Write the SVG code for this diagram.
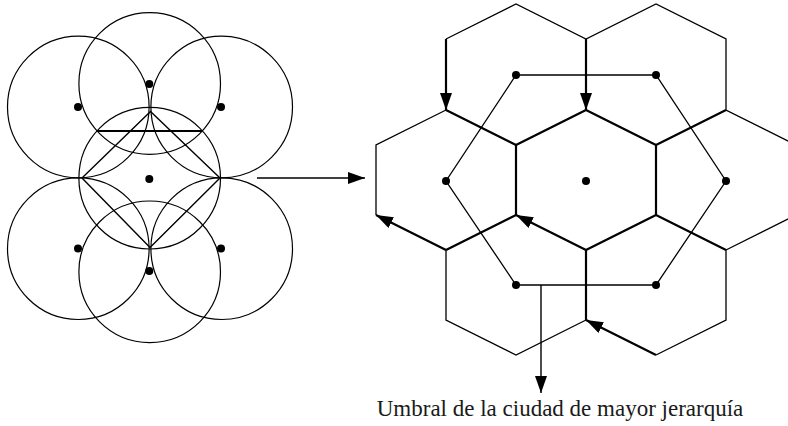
<svg xmlns="http://www.w3.org/2000/svg" width="788" height="426" viewBox="0 0 788 426">
  <style>
    .c { fill: none; stroke: #000; stroke-width: 1.2; }
    .th { fill: none; stroke: #000; stroke-width: 1.3; }
    .tk { fill: none; stroke: #000; stroke-width: 2.2; stroke-linejoin: miter; }
    .ln { fill: none; stroke: #000; stroke-width: 1.4; }
    .dot { fill: #000; }
    .lbl { font-family: "Liberation Serif", "Times New Roman", serif; font-size: 23px; fill: #1a1a1a; }
  </style>
  <defs>
    <marker id="ah" markerUnits="userSpaceOnUse" markerWidth="17" markerHeight="12" refX="17" refY="6" orient="auto">
      <path d="M0,0 L17,6 L0,12 z" fill="#000"/>
    </marker>
  </defs>
  <rect width="788" height="426" fill="#fff"/>

  <g id="circles">
    <circle class="c" cx="149.7" cy="83.5" r="70.8"/>
    <circle class="c" cx="78.3" cy="107" r="70.8"/>
    <circle class="c" cx="221.7" cy="107" r="70.8"/>
    <circle class="c" cx="149.7" cy="178.2" r="70.8"/>
    <circle class="c" cx="78.3" cy="248.7" r="70.8"/>
    <circle class="c" cx="221.7" cy="248.7" r="70.8"/>
    <circle class="c" cx="149.7" cy="271.8" r="70.8"/>
    <line x1="97" y1="131" x2="202.5" y2="131" stroke="#000" stroke-width="2.2"/>
    <polyline class="ln" points="82,178 150.5,111.5 220,178"/>
    <polyline class="ln" points="82,178 150,247.5 220,178"/>
    <g class="dot">
      <circle cx="149.3" cy="84" r="4"/>
      <circle cx="78" cy="107" r="4"/>
      <circle cx="221" cy="107" r="4"/>
      <circle cx="149.3" cy="179" r="4"/>
      <circle cx="78" cy="248.5" r="4"/>
      <circle cx="221" cy="248.5" r="4"/>
      <circle cx="149.3" cy="271" r="4"/>
    </g>
  </g>

  <g id="hexagons">
    <polyline class="th" points="446,39 516,4 586,39 656,4 726,39 726,110 796,145"/>
    <polyline class="th" points="446,110 376,145 376,215"/>
    <polyline class="th" points="726,250 796,215"/>
    <polyline class="th" points="726,250 726,320 656,355"/>
    <polyline class="th" points="446,250 446,320 516,355 586,320"/>
    <polyline class="tk" points="446,110 516,145 586,110 656,145 726,110"/>
    <line class="tk" x1="516" y1="145" x2="516" y2="215"/>
    <line class="tk" x1="656" y1="145" x2="656" y2="215"/>
    <polyline class="tk" points="446,250 516,215"/>
    <polyline class="tk" points="586,250 656,215 726,250"/>
    <line class="tk" x1="586" y1="250" x2="586" y2="320"/>
    <polygon class="th" points="516,75 656,75 726,181 656,285 516,285 446,181"/>
    <g class="dot">
      <circle cx="516" cy="75" r="4"/>
      <circle cx="656" cy="75" r="4"/>
      <circle cx="446" cy="181" r="4"/>
      <circle cx="586" cy="181" r="4"/>
      <circle cx="726" cy="181" r="4"/>
      <circle cx="516" cy="285" r="4"/>
      <circle cx="656" cy="285" r="4"/>
    </g>
  </g>

  <g id="connectors">
    <line class="ln" x1="257" y1="178" x2="365" y2="178" marker-end="url(#ah)"/>
    <line class="tk" x1="446" y1="39" x2="446" y2="110" marker-end="url(#ah)"/>
    <line class="tk" x1="586" y1="39" x2="586" y2="110" marker-end="url(#ah)"/>
    <line class="tk" x1="446" y1="250" x2="376" y2="215" marker-end="url(#ah)"/>
    <line class="tk" x1="586" y1="250" x2="516" y2="215" marker-end="url(#ah)"/>
    <line class="tk" x1="656" y1="355" x2="586" y2="320" marker-end="url(#ah)"/>
    <line class="ln" x1="541" y1="285" x2="541" y2="393" marker-end="url(#ah)"/>
  </g>

  <g id="label">
    <text class="lbl" x="560" y="416" text-anchor="middle">Umbral de la ciudad de mayor jerarquía</text>
  </g>
</svg>
